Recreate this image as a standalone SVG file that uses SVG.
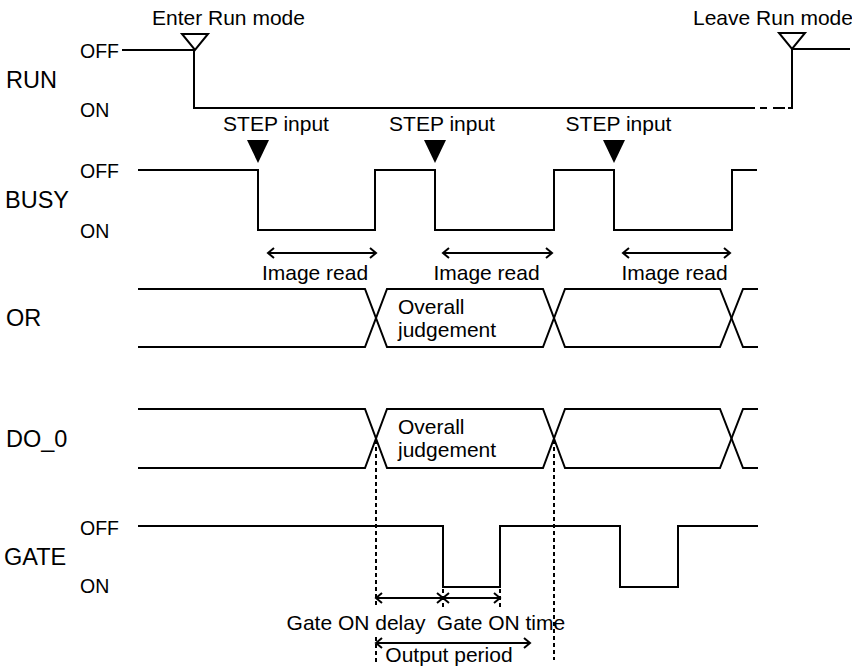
<svg xmlns="http://www.w3.org/2000/svg" width="852" height="669" viewBox="0 0 852 669">
<style>
text{font-family:"Liberation Sans",Arial,Helvetica,sans-serif;fill:#000}
.sig{font-size:23.5px}
.lv{font-size:19.5px}
.lb{font-size:21px}
.w{fill:none;stroke:#000;stroke-width:2;stroke-linejoin:miter}
.dot{fill:none;stroke:#000;stroke-width:2;stroke-dasharray:4 3}
.arr{fill:none;stroke:#000;stroke-width:2;marker-start:url(#ah);marker-end:url(#ah)}
.arr1{fill:none;stroke:#000;stroke-width:2;marker-end:url(#ah)}
</style>
<defs>
<marker id="ah" viewBox="-10 -7 12 14" refX="0" refY="0" markerWidth="12" markerHeight="14" markerUnits="userSpaceOnUse" orient="auto-start-reverse">
<path d="M-6,-5 L0,0 L-6,5" fill="none" stroke="#000" stroke-width="2"/>
</marker>
</defs>
<rect width="852" height="669" fill="#fff"/>

<g id="run">
<text class="sig" x="6" y="88">RUN</text>
<text class="lv" x="80" y="58">OFF</text>
<text class="lv" x="80" y="117">ON</text>
<path class="w" d="M122,50 H194 V108 H755"/>
<path class="w" d="M760,108 H767 M773,108 H785"/>
<path class="w" d="M850,49 H792 V109 M792,108 H788"/>
<polygon points="182,34 208,34 195,50" fill="#fff" stroke="#000" stroke-width="2"/>
<polygon points="779,33 805,33 792,49" fill="#fff" stroke="#000" stroke-width="2"/>
<text class="lb" x="152" y="25">Enter Run mode</text>
<text class="lb" x="693" y="25">Leave Run mode</text>
</g>

<g id="busy">
<text class="sig" x="5" y="208">BUSY</text>
<text class="lv" x="80" y="178">OFF</text>
<text class="lv" x="80" y="238">ON</text>
<path class="w" d="M138,170 H258 V230 H375 V170 H435 V230 H554 V170 H614 V230 H732 V170 H757"/>
<polygon points="247,140 269,140 258,163" fill="#000"/>
<polygon points="424,140 446,140 435,163" fill="#000"/>
<polygon points="603,140 625,140 614,163" fill="#000"/>
<text class="lb" x="276" y="131" text-anchor="middle">STEP input</text>
<text class="lb" x="442" y="131" text-anchor="middle">STEP input</text>
<text class="lb" x="618.5" y="131" text-anchor="middle">STEP input</text>
</g>

<g id="or">
<text class="sig" x="6" y="326">OR</text>
<path class="w" d="M138,289 H365 L387,347 H543 L565,289 H720 L743,347 H758"/>
<path class="w" d="M138,347 H365 L387,289 H543 L565,347 H720 L743,289 H758"/>
<text class="lb" x="398" y="314">Overall</text>
<text class="lb" x="398" y="337">judgement</text>
</g>

<g id="do0">
<text class="sig" x="6" y="447">DO_0</text>
<path class="w" d="M138,409 H365 L387,468 H543 L565,409 H720 L743,468 H758"/>
<path class="w" d="M138,468 H365 L387,409 H543 L565,468 H720 L743,409 H758"/>
<text class="lb" x="398" y="434">Overall</text>
<text class="lb" x="398" y="457">judgement</text>
</g>

<g id="gate">
<text class="sig" x="4" y="565">GATE</text>
<text class="lv" x="80" y="535">OFF</text>
<text class="lv" x="80" y="593">ON</text>
<path class="w" d="M138,526 H443 V587 H500 V526 H620 V587 H678 V526 H758"/>
</g>

<g id="connectors">
<line class="arr" x1="268" y1="253" x2="376" y2="253"/>
<line class="arr" x1="443" y1="253" x2="552" y2="253"/>
<line class="arr" x1="623" y1="253" x2="730" y2="253"/>
<text class="lb" x="315" y="280" text-anchor="middle">Image read</text>
<text class="lb" x="486.5" y="280" text-anchor="middle">Image read</text>
<text class="lb" x="674.5" y="280" text-anchor="middle">Image read</text>
<path class="dot" d="M376,440 V606 M376,637 V662"/>
<path class="dot" d="M554,440 V660"/>
<path class="dot" d="M443,589 V610 M500,589 V610"/>
<line class="arr" x1="376" y1="598" x2="443" y2="598"/>
<line class="arr" x1="443" y1="598" x2="500" y2="598"/>
<line class="arr" x1="376" y1="643" x2="530" y2="643"/>
<text class="lb" x="356" y="630" text-anchor="middle">Gate ON delay</text>
<text class="lb" x="501" y="630" text-anchor="middle">Gate ON time</text>
<text class="lb" x="449" y="662" text-anchor="middle">Output period</text>
</g>
</svg>
